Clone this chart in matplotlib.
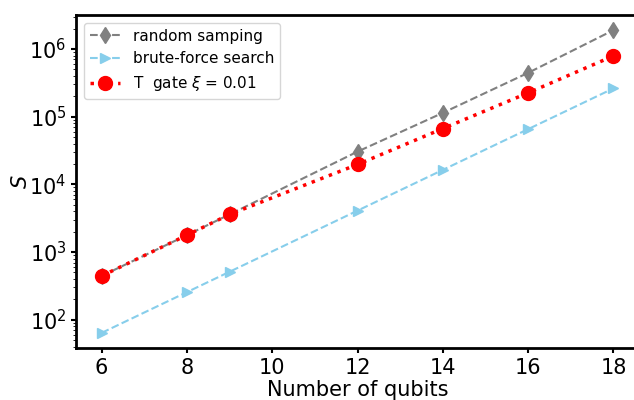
import numpy as np
import matplotlib
matplotlib.use("Agg")
import matplotlib.pyplot as plt

# Data
qubits = [6, 8, 9, 12, 14, 16, 18]
random_sampling = [444, 1780, 3600, 30500, 114000, 445000, 1900000]
brute_force = [64, 256, 512, 4096, 16384, 65536, 262144]
t_gate = [444, 1780, 3600, 19700, 66800, 225000, 790000]

fig = plt.figure(figsize=(6.34, 4.0), dpi=100)
ax = fig.add_axes([0.12, 0.13, 0.888, 0.8325])

ax.plot(qubits, random_sampling, ls="--", marker="d", color="gray",
        markersize=8, lw=1.5, label="random samping")
ax.plot(qubits, brute_force, ls="--", marker=">", color="skyblue",
        markersize=7, lw=1.5, label="brute-force search")
ax.plot(qubits, t_gate, ls=":", marker="o", color="red",
        markersize=10, lw=2.5, label=r"T  gate $\xi$ = 0.01")

ax.set_yscale("log")
ax.set_xticks([6, 8, 10, 12, 14, 16, 18])
ax.set_xlabel("Number of qubits", fontsize=15, labelpad=2)
ax.set_ylabel(r"$S$", fontsize=15, labelpad=-1)
ax.tick_params(labelsize=15, width=1.5)
for s in ax.spines.values():
    s.set_linewidth(2)
ax.spines["right"].set_visible(False)

ax.legend(loc="upper left", fontsize=11, handlelength=2.0)
fig.savefig("out.png", dpi=100)
